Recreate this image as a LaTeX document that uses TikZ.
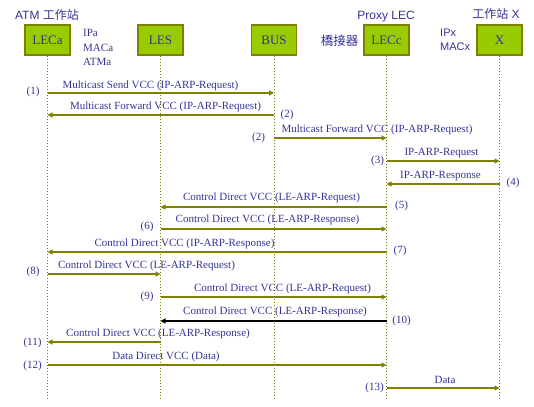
\documentclass[tikz,border=0pt]{standalone}
\usepackage{fontspec}
\setmainfont{Liberation Serif}
\newfontfamily\hdfont{Liberation Sans}
\newfontfamily\cjkfont{Noto Sans CJK TC}
\usetikzlibrary{arrows.meta}
\definecolor{olivec}{HTML}{808000}
\definecolor{boxfill}{HTML}{99CC00}
\definecolor{txt}{HTML}{333399}
\begin{document}
\begin{tikzpicture}[x=1pt,y=-1pt,
  ent/.style={draw=olivec, fill=boxfill, line width=1.2pt, minimum width=45pt, minimum height=30pt, inner sep=0pt, text=txt, font=\fontsize{13}{13}\selectfont},
  life/.style={olivec, dotted, line width=1pt},
  msg/.style={olivec, line width=1.2pt, -{Triangle[length=5pt,width=5pt]}},
  lbl/.style={text=txt, inner sep=0pt, font=\fontsize{11}{11}\selectfont},
  hd/.style={text=txt, inner sep=0pt, font=\hdfont\fontsize{12}{12}\selectfont},
  cj/.style={text=txt, inner sep=0pt, font=\cjkfont\fontsize{12.5}{12.5}\selectfont},
  sub/.style={text=txt, inner sep=0pt, anchor=west, font=\fontsize{11}{11}\selectfont},
  subs/.style={text=txt, inner sep=0pt, anchor=west, font=\hdfont\fontsize{11}{11}\selectfont}]
\useasboundingbox (0,0) rectangle (534,406);

% entities
\node[ent] (lecA) at (47.5,40) {LECa};
\node[ent] (les)  at (160.5,40) {LES};
\node[ent] (bus)  at (274,40) {BUS};
\node[ent] (lecC) at (386.5,40) {LECc};
\node[ent] (stX)  at (499.5,40) {X};

% headers
\node[hd] (hA) at (47,14.5) {ATM {\cjkfont 工作站}};
\node[sub] (ipa) at (83,33) {IPa};
\node[sub] (maca) at (83,47.5) {MACa};
\node[sub] (atma) at (83,61.5) {ATMa};
\node[hd] (hP) at (386,17) {Proxy LEC};
\node[cj] (hB) at (339.5,40.5) {橋接器};
\node[subs] (ipx) at (440,33) {IPx};
\node[subs] (macx) at (440,47) {MACx};
\node[hd] (hX) at (496,14) {{\cjkfont 工作站} X};

% lifelines
\foreach \n in {lecA,les,bus,lecC,stX}
  \draw[life] (\n.south) -- (\n.south |- 0,400);

% messages
\draw[msg] (lecA |- 0,93) -- (bus |- 0,93);
\node[lbl] (m1) at (150.5,86) {Multicast Send VCC (IP-ARP-Request)};
\node[lbl] (n1) at (33,92) {(1)};

\draw[msg] (bus |- 0,115) -- (lecA |- 0,115);
\node[lbl] (m2) at (165.5,107) {Multicast Forward VCC (IP-ARP-Request)};
\node[lbl] (n2a) at (287,115) {(2)};

\draw[msg] (bus |- 0,138) -- (lecC |- 0,138);
\node[lbl] (m3) at (377,130) {Multicast Forward VCC (IP-ARP-Request)};
\node[lbl] (n2b) at (258.5,137.5) {(2)};

\draw[msg] (lecC |- 0,161) -- (stX |- 0,161);
\node[lbl] (m4) at (441.5,153) {IP-ARP-Request};
\node[lbl] (n3) at (377.5,161) {(3)};

\draw[msg] (stX |- 0,184) -- (lecC |- 0,184);
\node[lbl] (m5) at (440.5,176.5) {IP-ARP-Response};
\node[lbl] (n4) at (513,183) {(4)};

\draw[msg] (lecC |- 0,207) -- (les |- 0,207);
\node[lbl] (m6) at (271.5,198) {Control Direct VCC (LE-ARP-Request)};
\node[lbl] (n5) at (401.5,206) {(5)};

\draw[msg] (les |- 0,229) -- (lecC |- 0,229);
\node[lbl] (m7) at (267.5,220) {Control Direct VCC (LE-ARP-Response)};
\node[lbl] (n6) at (147,226.5) {(6)};

\draw[msg] (lecC |- 0,252) -- (lecA |- 0,252);
\node[lbl] (m8) at (184.5,243.5) {Control Direct VCC (IP-ARP-Response)};
\node[lbl] (n7) at (400,250.5) {(7)};

\draw[msg] (lecA |- 0,274) -- (les |- 0,274);
\node[lbl] (m9) at (146.5,266) {Control Direct VCC (LE-ARP-Request)};
\node[lbl] (n8) at (33,272) {(8)};

\draw[msg] (les |- 0,297) -- (lecC |- 0,297);
\node[lbl] (m10) at (282.5,288.5) {Control Direct VCC (LE-ARP-Request)};
\node[lbl] (n9) at (147,297) {(9)};

\draw[msg, draw=black] (lecC |- 0,321) -- (les |- 0,321);
\node[lbl] (m11) at (275,312) {Control Direct VCC (LE-ARP-Response)};
\node[lbl] (n10) at (401.5,321) {(10)};

\draw[msg] (les |- 0,342) -- (lecA |- 0,342);
\node[lbl] (m12) at (158,334) {Control Direct VCC (LE-ARP-Response)};
\node[lbl] (n11) at (32.5,342.5) {(11)};

\draw[msg] (lecA |- 0,365) -- (lecC |- 0,365);
\node[lbl] (m13) at (166,357) {Data Direct VCC (Data)};
\node[lbl] (n12) at (32.5,365.5) {(12)};

\draw[msg] (lecC |- 0,388) -- (stX |- 0,388);
\node[lbl] (m14) at (445,380) {Data};
\node[lbl] (n13) at (374.5,388) {(13)};
\end{tikzpicture}
\end{document}
